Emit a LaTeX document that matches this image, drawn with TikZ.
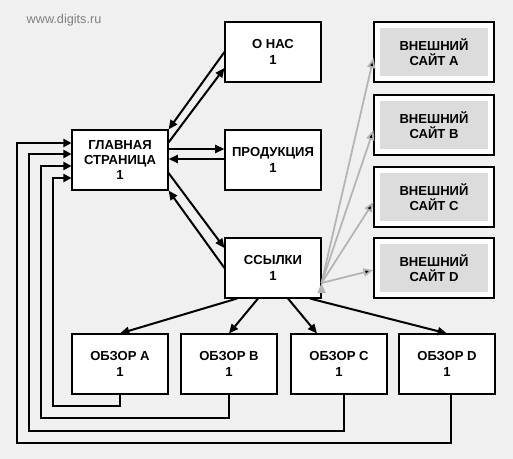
\documentclass[tikz,border=0pt]{standalone}
\usepackage{fontspec}
\setmainfont{Liberation Sans}
\usetikzlibrary{arrows.meta,calc}
\definecolor{bgcol}{HTML}{F0F0F0}
\definecolor{extfill}{HTML}{DCDCDC}
\definecolor{extline}{HTML}{B4B4B4}
\definecolor{markcol}{HTML}{808080}

\begin{document}
\begin{tikzpicture}[x=0.75pt,y=-0.75pt,
  box/.style={draw,fill=white,line width=0.8pt,minimum width=72pt,minimum height=45pt,
    align=center,font=\fontsize{9.8}{11.6}\selectfont\bfseries},
  extbox/.style={draw,fill=white,line width=0.8pt,minimum width=90pt,minimum height=45pt},
  extin/.style={fill=extfill,minimum width=81pt,minimum height=36pt,
    align=center,font=\fontsize{9.8}{11.6}\selectfont\bfseries},
  link/.style={line width=1.5pt,-{Triangle[length=7pt,width=6pt]}},
  extlink/.style={draw=extline,line width=1.3pt,-{Triangle[length=7.5pt,width=6pt]}},
  fb/.style={line width=1.5pt,-{Triangle[length=6pt,width=6pt]}}]
  \fill[bgcol] (0,0) rectangle (513,459);
  \node[anchor=west,text=markcol,font=\fontsize{9.5}{10}\selectfont] (mark) at (22,20) {www.digits.ru};

  \node[box] (glavnaya) at (120,160) {ГЛАВНАЯ\\СТРАНИЦА\\1};
  \node[box] (onas) at (273,52) {О НАС\\1};
  \node[box] (produkcia) at (273,160) {ПРОДУКЦИЯ\\1};
  \node[box] (ssylki) at (273,268) {ССЫЛКИ\\1};

  \foreach \s/\y in {A/52,B/125,C/197,D/268} {
    \node[extbox] (ext\s) at (434,\y) {};
    \node[extin] (extin\s) at (ext\s) {ВНЕШНИЙ\\САЙТ \s};
  }
  \foreach \s/\x in {A/120,B/229,C/339,D/447}
    \node[box] (obzor\s) at (\x,364) {ОБЗОР \s\\1};

  \path[link]
  (onas.west) edge (glavnaya.north east)
  ($(glavnaya.north east)+(0,13)$) edge ($(onas.west)+(0,16)$)
  ($(glavnaya.east)+(0,-11)$) edge ($(produkcia.west)+(0,-11)$)
  ($(produkcia.west)+(0,-1)$) edge ($(glavnaya.east)+(0,-1)$)
  ($(glavnaya.east)+(0,13)$) edge ($(ssylki.west)+(0,-20)$)
  (ssylki.west) edge (glavnaya.south east)
  ($(ssylki.south)+(-36,0)$) edge (obzorA.north)
  ($(ssylki.south)+(-15,0)$) edge (obzorB.north)
  ($(ssylki.south)+(15,0)$) edge ($(obzorC.north)+(-22,0)$)
  ($(ssylki.south)+(37,0)$) edge (obzorD.north);

  % external links
  \path[extlink]
  ($(ssylki.east)+(0,15)$) edge ($(extA.west)+(0,6)$)
  ($(ssylki.east)+(0,15)$) edge ($(extB.west)+(0,5)$)
  ($(ssylki.east)+(0,15)$) edge ($(extC.west)+(0,5)$)
  ($(ssylki.east)+(0,15)$) edge ($(extD.west)+(0,2)$);

  % back to the main page
  \draw[fb] (obzorA.south) -- ++(0,11) -| ($(glavnaya.west)+(-18,18)$) -- ($(glavnaya.west)+(0,18)$);
  \draw[fb] (obzorB.south) -- ++(0,23) -| ($(glavnaya.west)+(-30,6)$) -- ($(glavnaya.west)+(0,6)$);
  \draw[fb] ($(obzorC.south)+(5,0)$) -- ++(0,36) -| ($(glavnaya.west)+(-42,-6)$) -- ($(glavnaya.west)+(0,-6)$);
  \draw[fb] ($(obzorD.south)+(4,0)$) -- ++(0,48) -| ($(glavnaya.west)+(-54,-17)$) -- ($(glavnaya.west)+(0,-17)$);
\end{tikzpicture}
\end{document}
